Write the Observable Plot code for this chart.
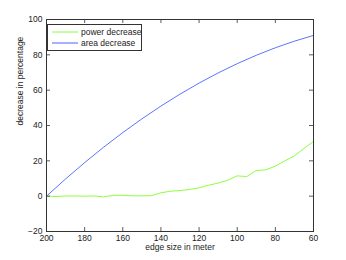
<!DOCTYPE html>
<html><head><meta charset="utf-8">
<script src="https://cdn.jsdelivr.net/npm/d3@7"></script>
<script src="https://cdn.jsdelivr.net/npm/@observablehq/plot@0.6"></script>
<style>body{margin:0;background:#fff}</style>
</head><body><div id="chart"></div>
<script>
const edgeSize = [200,195,190,185,180,175,170,165,160,155,150,145,140,135,130,125,120,115,110,105,100,95,90,85,80,75,70,65,60];
const powerDecrease = [0,-0.2,0.1,0.1,0,0.1,-0.4,0.5,0.5,0.2,0.2,0.3,1.9,2.8,3.2,3.8,4.7,6.2,7.4,9,11.5,11.1,14.5,14.9,17,20,22.8,27,31];
const areaEdge = [200,190,180,170,160,150,140,130,120,110,100,90,80,70,60];
const areaDecrease = [0,9.75,19,27.75,36,43.75,51,57.75,64,69.75,75,79.75,84,87.75,91];
const xTicks = [200,180,160,140,120,100,80,60];
const yTicks = [-20,0,20,40,60,80,100];
const seriesNames = ["power decrease","area decrease"];
const colors = ["#8cff3c","#4a64ff"];

const power = edgeSize.map((x,i)=>({x, y: powerDecrease[i]}));
const area = areaEdge.map((x,i)=>({x, y: areaDecrease[i]}));

const W=346,H=260,mL=46,mR=33,mT=19,mB=29;
const pw=W-mL-mR, ph=H-mT-mB;
const font = "Liberation Sans, Arial, sans-serif";
const tk=4;

const plot = Plot.plot({
  width:W, height:H, marginLeft:mL, marginRight:mR, marginTop:mT, marginBottom:mB,
  style:{fontFamily:font, fontSize:"8.5px", color:"#222", background:"#fff"},
  x:{domain:[200,60], ticks:xTicks, label:null},
  y:{domain:[-20,100], ticks:yTicks, label:null},
  marks:[
    Plot.line(area,{x:"x",y:"y",stroke:colors[1],strokeWidth:0.9}),
    Plot.line(power,{x:"x",y:"y",stroke:colors[0],strokeWidth:1}),
    Plot.tickX(xTicks,{x:d=>d, insetTop:ph-tk, stroke:"#333", strokeWidth:0.8}),
    Plot.tickX(xTicks,{x:d=>d, insetBottom:ph-tk, stroke:"#333", strokeWidth:0.8}),
    Plot.tickY(yTicks,{y:d=>d, insetRight:pw-tk, stroke:"#333", strokeWidth:0.8}),
    Plot.tickY(yTicks,{y:d=>d, insetLeft:pw-tk, stroke:"#333", strokeWidth:0.8}),
    Plot.axisX({ticks:xTicks, tickSize:0, tickPadding:3, label:null, fontSize:8.5}),
    Plot.axisY({ticks:yTicks, tickSize:0, tickPadding:4, label:null, fontSize:8.5}),
    Plot.frame({stroke:"#333", strokeWidth:1}),
    Plot.text(["edge size in meter"],{frameAnchor:"bottom", dy:18, fontSize:8.5, fill:"#222"}),
    Plot.text(["decrease in percentage"],{frameAnchor:"left", dx:-26, rotate:-90, fontSize:8.5, fill:"#222"})
  ]
});

const svg = d3.select(plot);
const g = svg.append("g").attr("text-anchor","start");
g.append("rect").attr("x",47.5).attr("y",24.5).attr("width",94).attr("height",26)
  .attr("fill","#fff").attr("stroke","#333").attr("stroke-width",1);
seriesNames.forEach((name,i)=>{
  const yy = 32 + i*11;
  g.append("line").attr("x1",52).attr("x2",78).attr("y1",yy).attr("y2",yy)
    .attr("stroke",colors[i]).attr("stroke-width",1);
  g.append("text").attr("x",81).attr("y",yy).attr("dy","0.35em")
    .attr("text-anchor","start")
    .attr("font-family",font).attr("font-size","8.5px").attr("fill","#222").text(name);
});
document.getElementById("chart").appendChild(plot);
</script></body></html>
